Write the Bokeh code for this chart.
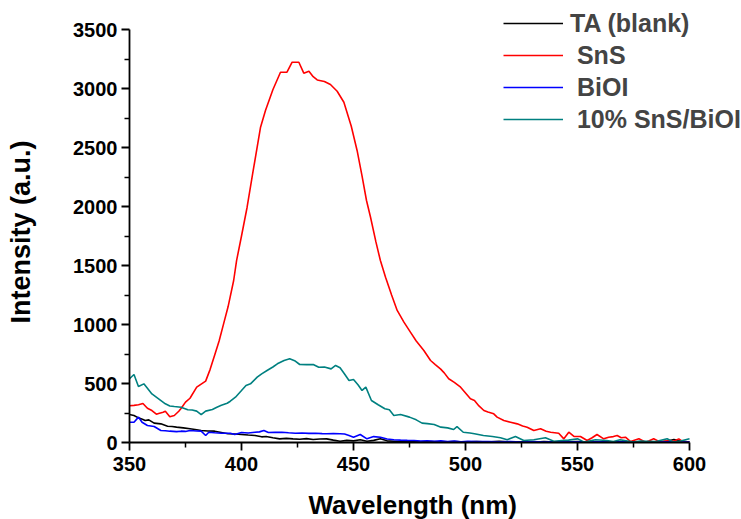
from bokeh.plotting import figure
from bokeh.models import Range1d, FixedTicker, Legend, LegendItem, Title
from bokeh.embed import file_html
from bokeh.resources import INLINE

# ---- data ----
ta_wl = [350, 352, 354, 356, 357, 358.6, 361, 364, 367, 369, 371, 374, 377, 380, 382, 385, 388, 391, 394, 397,
         400, 403, 406, 409, 411, 414, 417, 420, 423, 426, 429, 432, 435, 438, 441, 444, 447, 450, 453, 456,
         459, 462, 465, 468, 471, 475, 480, 485, 490, 495, 500, 505, 510, 515, 520, 525, 530, 535, 540, 545,
         550, 555, 560, 565, 570, 575, 580, 585, 590, 593, 596, 600]
ta_int = [237, 229, 209, 195, 186, 192, 164, 158, 138, 135, 130, 124, 116, 108, 102, 98, 96, 85, 74, 72,
          68, 63, 59, 48, 51, 40, 31, 35, 31, 28, 33, 26, 30, 31, 20, 11, 18, 14, 23, 11,
          18, 31, 14, 11, 8, 12, 5, 9, 4, 7, 3, 8, 4, 10, 3, 6, 2, 8, 4, 3,
          9, 2, 6, 3, 8, 2, 5, 3, 10, 25, 12, 4]

sns_wl = [350, 352, 354, 356, 358, 360, 362, 363, 365, 366, 368, 370, 372, 373, 375, 377, 380, 382, 384, 386,
          388, 390, 392, 394, 396.5, 397.8, 400, 402.5, 405, 408.5, 410.7, 414, 417.4, 420.3, 422.6, 425.6, 427.8, 430.1, 432, 433.8,
          437, 439.7, 442.7, 445.7, 449, 451.6, 453.8, 455.8, 457.6, 460, 462, 464.3, 467, 469.5, 472.5, 475.4, 478, 481.4, 484.4, 486.5,
          488.8, 490.5, 492.5, 495, 497.8, 500, 502.2, 504, 506, 508.2, 510, 512.6, 514.1, 517.1, 520.1, 523.1, 525.5, 527.5, 530.5, 533.5, 536, 538,
          541.6, 543.9, 546.1, 548.4, 551.3, 554.3, 556.5, 558.7, 561.7, 563.9, 566, 567.7, 569.5, 571.4, 573.7, 577.4, 580.4, 582, 584,
          587, 589, 591.5, 593, 595.2, 597.4, 600]
sns_int = [312, 315, 320, 330, 290, 271, 240, 246, 257, 265, 218, 229, 265, 288, 342, 375, 469, 495, 520, 620,
           740, 860, 1005, 1150, 1373, 1542, 1750, 1994, 2280, 2672, 2814, 2990, 3138, 3138, 3223, 3223, 3130, 3147, 3100, 3073,
           3060, 3034, 2977, 2884, 2680, 2475, 2260, 2051, 1909, 1700, 1542, 1400, 1250, 1119, 1020, 935, 860, 780, 695, 660,
           624, 590, 540, 510, 469, 420, 370, 356, 310, 271, 258, 243, 215, 186, 172, 158, 140, 130, 102, 116, 95, 87,
           79, 31, 87, 51, 51, 17, 40, 68, 31, 45, 50, 59, 40, 45, 8, 31, 3, 15, 31,
           3, 12, 17, 10, 31, 3, 0]

bioi_wl = [350, 352, 354, 355.6, 358, 361, 364, 366, 368, 371, 373, 375, 377, 380, 382, 384, 385.4, 388, 391, 395,
           397, 400, 403, 406, 408, 410, 412, 415, 418, 421, 424, 427, 430, 433, 436, 438, 441, 444, 446, 448,
           450, 453, 456, 459, 462, 465, 468, 471, 474, 477, 480, 483, 486, 489, 492, 495, 498, 501, 505, 510,
           515, 520, 525, 530, 535, 540, 545, 550, 555, 560, 565, 570, 575, 580, 585, 590, 595, 600]
bioi_int = [172, 172, 215, 172, 144, 136, 102, 100, 96, 92, 96, 94, 102, 98, 96, 59, 87, 82, 79, 79,
            68, 85, 80, 87, 90, 102, 85, 86, 87, 82, 79, 80, 77, 78, 75, 74, 76, 74, 72, 60,
            45, 68, 31, 50, 45, 30, 23, 20, 18, 17, 12, 15, 10, 14, 8, 12, 6, 10, 7, 9,
            5, 8, 4, 7, 3, 6, 4, 5, 3, 6, 2, 5, 3, 4, 2, 5, 3, 4]

mix_wl = [350, 352, 354, 356.4, 358, 360, 363, 366, 368, 370, 373, 376, 378, 380, 382, 384, 387, 389, 391, 393.6,
          395, 397.3, 400, 402, 404, 407, 409, 411.4, 414, 416, 419, 421.5, 424, 426, 429, 432, 434.5, 437, 440, 442,
          444, 446, 448, 450, 452, 453.8, 455.5, 458, 461, 464, 466, 468, 471, 475, 478, 480.6, 483, 486, 489, 492,
          494.7, 496.2, 499, 502, 504, 508, 512, 515.6, 518.6, 522.3, 526, 530.5, 535.7, 539.4, 543, 546, 550, 553, 558, 563,
          566, 569, 575, 578, 581, 585, 590, 593, 596, 600]
mix_int = [540, 576, 475, 497, 460, 412, 370, 328, 310, 305, 299, 277, 275, 266, 237, 266, 280, 299, 315, 333,
           350, 384, 440, 483, 497, 554, 582, 610, 640, 667, 695, 709, 690, 661, 660, 661, 638, 640, 624, 653,
           633, 580, 525, 534, 490, 441, 469, 356, 320, 286, 277, 229, 237, 215, 192, 164, 160, 153, 130, 124,
           110, 135, 87, 80, 74, 59, 51, 40, 23, 51, 17, 23, 40, 11, 17, 20, 31, 3, 23, 17,
           8, 23, 3, 12, 11, 8, 31, 3, 12, 31]

labels = ["TA (blank)", " SnS", " BiOI", " 10% SnS/BiOI"]
colors = ["#000000", "#ff0000", "#0000ff", "#008080"]
x_title = "Wavelength (nm)"
y_title = "Intensity (a.u.)"

x_ticks = [350, 400, 450, 500, 550, 600]
x_minor = [375, 425, 475, 525, 575]
y_ticks = [0, 500, 1000, 1500, 2000, 2500, 3000, 3500]
y_minor = [250, 750, 1250, 1750, 2250, 2750, 3250]

FONT = "Liberation Sans"

p = figure(width=741, height=519, output_backend="svg", toolbar_location=None,
           x_range=Range1d(350, 623.2), y_range=Range1d(0, 3746),
           min_border_left=129, min_border_right=0, min_border_top=0, min_border_bottom=77)
p.outline_line_color = None
p.xgrid.visible = False
p.ygrid.visible = False
p.background_fill_color = "white"
p.border_fill_color = "white"

series = [(ta_wl, ta_int), (sns_wl, sns_int), (bioi_wl, bioi_int), (mix_wl, mix_int)]
renderers = []
for (wl, it), c in zip(series, colors):
    r = p.line(wl, it, line_color=c, line_width=1.6)
    renderers.append(r)

for ax, ticks, minor, bnds in [(p.xaxis[0], x_ticks, x_minor, (350, 600)),
                               (p.yaxis[0], y_ticks, y_minor, (0, 3500))]:
    ax.ticker = FixedTicker(ticks=ticks, minor_ticks=minor)
    ax.bounds = bnds
    ax.axis_line_width = 1.8
    ax.major_tick_line_width = 1.8
    ax.minor_tick_line_width = 1.5
    ax.major_tick_out = 8
    ax.major_tick_in = 0
    ax.minor_tick_out = 5
    ax.minor_tick_in = 0
    ax.major_label_text_font = FONT
    ax.major_label_text_font_style = "bold"
    ax.major_label_text_font_size = "20px"
    ax.major_label_text_color = "black"

p.xaxis.major_label_standoff = 6
p.yaxis.major_label_standoff = 4

# blank spacer titles reserve room between each axis and its title
p.add_layout(Title(text=" ", text_font_size="1px", standoff=11), "below")
p.add_layout(Title(text=" ", text_font_size="1px", standoff=32), "left")

xt = Title(text=x_title, align="left", offset=179, standoff=0,
           text_font=FONT, text_font_style="bold", text_font_size="26px", text_color="black")
yt = Title(text=y_title, align="left", offset=119, standoff=0,
           text_font=FONT, text_font_style="bold", text_font_size="27px", text_color="black")
p.add_layout(xt, "below")
p.add_layout(yt, "left")

legend = Legend(items=[LegendItem(label=l, renderers=[r]) for l, r in zip(labels, renderers)],
                location=(374, 307), orientation="vertical",
                border_line_color=None, background_fill_alpha=0,
                padding=0, margin=0, spacing=0,
                glyph_width=60, glyph_height=32, label_height=32, label_standoff=7,
                label_text_font=FONT, label_text_font_style="bold", label_text_font_size="25px")
p.add_layout(legend)

open("out.html", "w").write(file_html(p, INLINE))
